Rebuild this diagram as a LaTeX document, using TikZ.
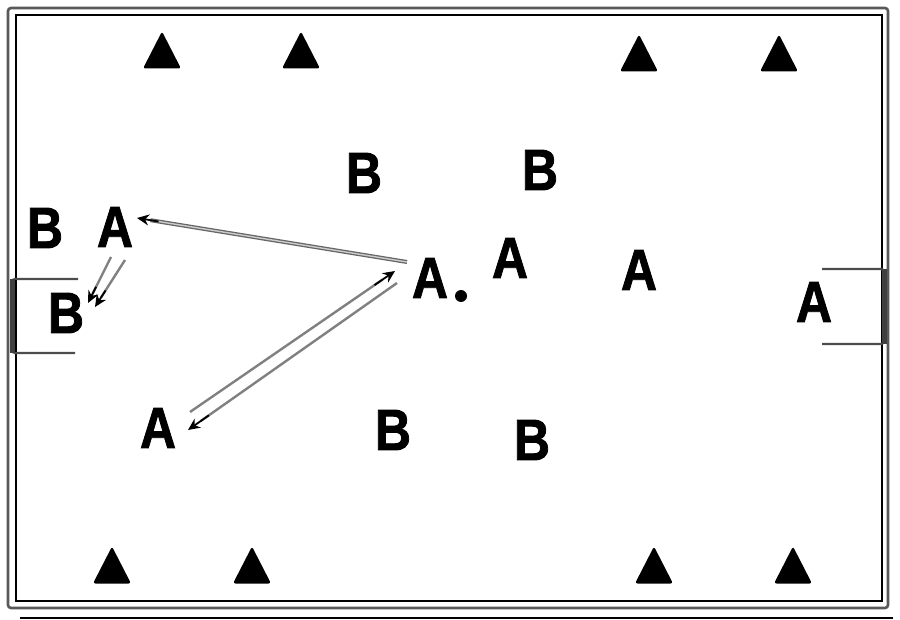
\documentclass[tikz,border=0pt]{standalone}
\usepackage{fontspec}
\setmainfont{Liberation Sans}
\newfontfamily\fieldfont{Liberation Sans}[BoldFeatures={FakeBold=1.6}]
\usetikzlibrary{arrows.meta,calc}
\newcommand\fieldltr[1]{\scalebox{0.86}[1]{#1}}
\tikzset{
  letter/.style={inner sep=0pt, font=\fieldfont\bfseries\fontsize{58}{58}\selectfont},
  cone/.pic={\fill[rounded corners=2.5pt] (-19,18.5) -- (0,-18.5) -- (19,18.5) -- cycle;},
  passline/.style={draw=black!60, line width=1.3pt, double=black!20, double distance=1.4pt},
  tipline/.style={draw=black, line width=1.8pt, -{Stealth[length=12pt,width=11pt]}},
  grayline/.style={draw=black!50, line width=2.4pt},
  fieldouter/.style={draw=black!65, line width=2.6pt, rounded corners=3pt},
  fieldinner/.style={draw=black, line width=1.2pt},
  goalpost/.style={draw=black!75, line width=5pt},
  goalside/.style={draw=black!70, line width=2.2pt, rounded corners=3pt},
  ballspot/.style={circle, fill=black, inner sep=0pt, minimum size=12pt},
}
\begin{document}
\begin{tikzpicture}[x=1pt,y=-1pt]
\useasboundingbox (0,0) rectangle (900,620);
% field
\draw[fieldouter] (8,8) rectangle (888,608);
\draw[fieldinner] (16,15) rectangle (882,601);
\draw[fieldinner] (20,618) -- (893,618);
% goals
\draw[goalside] (78,279) -- (12,279) -- (12,353) -- (75,353);
\draw[goalpost] (12,279) -- (12,353);
\draw[goalside] (822,269) -- (884,269) -- (884,344) -- (822,344);
\draw[goalpost] (884,269) -- (884,344);
% cones
\foreach \cx/\cy in {162/50, 301/50, 639/53, 779/53, 112/565, 252/565, 654/565, 793/565}
  \pic at (\cx,\cy) {cone};
% players
\node[letter] (bL) at (45,228) {\fieldltr{B}};
\node[letter] (aL) at (115,227) {\fieldltr{A}};
\node[letter] (bB) at (66,313) {\fieldltr{B}};
\node[letter] (b1) at (364,173) {\fieldltr{B}};
\node[letter] (b2) at (540,170) {\fieldltr{B}};
\node[letter] (aC) at (430,278) {\fieldltr{A}};
\node[ballspot] (ball) at (461,296) {};
\node[letter] (a2) at (510,258) {\fieldltr{A}};
\node[letter] (a3) at (639,270) {\fieldltr{A}};
\node[letter] (aR) at (814,302) {\fieldltr{A}};
\node[letter] (aD) at (158,428) {\fieldltr{A}};
\node[letter] (b3) at (393,430) {\fieldltr{B}};
\node[letter] (b4) at (532,440) {\fieldltr{B}};
% passes
\coordinate (p1s) at ($(aC)+(-23,-16)$);
\coordinate (p1e) at ($(aL)+(22,-9)$);
\draw[passline] (p1s) -- ($(p1s)!0.95!(p1e)$);
\draw[tipline] ($(p1s)!0.92!(p1e)$) -- (p1e);
\coordinate (p2s) at ($(aD)+(32,-16)$);
\coordinate (p2e) at ($(aC)+(-35,-7)$);
\draw[grayline] (p2s) -- ($(p2s)!0.94!(p2e)$);
\draw[tipline] ($(p2s)!0.9!(p2e)$) -- (p2e);
\coordinate (p3s) at ($(aC)+(-33,5)$);
\coordinate (p3e) at ($(aD)+(30,2)$);
\draw[grayline] (p3s) -- ($(p3s)!0.94!(p3e)$);
\draw[tipline] ($(p3s)!0.9!(p3e)$) -- (p3e);
\coordinate (p4s) at ($(aL)+(-4,30)$);
\coordinate (p4e) at ($(bB)+(22,-10)$);
\draw[grayline] (p4s) -- ($(p4s)!0.8!(p4e)$);
\draw[tipline] ($(p4s)!0.65!(p4e)$) -- (p4e);
\coordinate (p5s) at ($(aL)+(10,33)$);
\coordinate (p5e) at ($(bB)+(29,-6)$);
\draw[grayline] (p5s) -- ($(p5s)!0.8!(p5e)$);
\draw[tipline] ($(p5s)!0.65!(p5e)$) -- (p5e);
\end{tikzpicture}
\end{document}
